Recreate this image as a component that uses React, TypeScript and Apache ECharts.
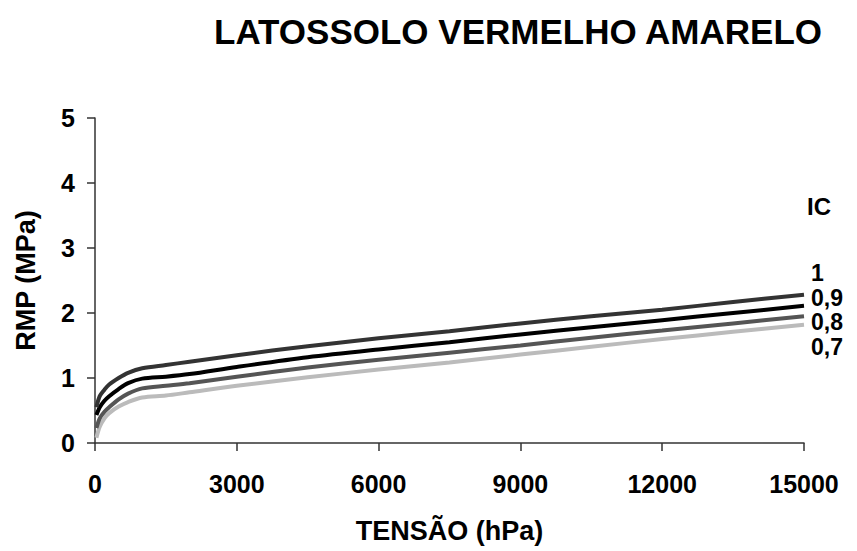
import React, { useEffect, useRef } from "react";
import * as echarts from "echarts";

const tensao = [30, 100, 200, 300, 500, 700, 1000, 1500, 2000, 3000, 4500, 6000, 7500, 9000, 10500, 12000, 13500, 15000];
const ic10 = [0.55, 0.72, 0.82, 0.9, 1.0, 1.08, 1.15, 1.2, 1.25, 1.35, 1.49, 1.61, 1.72, 1.84, 1.95, 2.05, 2.17, 2.28];
const ic09 = [0.43, 0.55, 0.65, 0.72, 0.83, 0.92, 0.99, 1.02, 1.06, 1.17, 1.32, 1.44, 1.55, 1.67, 1.78, 1.89, 2.0, 2.11];
const ic08 = [0.23, 0.38, 0.48, 0.55, 0.67, 0.76, 0.84, 0.88, 0.92, 1.02, 1.16, 1.28, 1.39, 1.5, 1.62, 1.73, 1.84, 1.95];
const ic07 = [0.08, 0.25, 0.38, 0.46, 0.56, 0.63, 0.7, 0.73, 0.78, 0.88, 1.01, 1.13, 1.24, 1.36, 1.48, 1.6, 1.71, 1.82];

const seriesNames = ["1", "0,9", "0,8", "0,7"];
const seriesValues = [ic10, ic09, ic08, ic07];
const seriesColors = ["#333333", "#000000", "#555555", "#bbbbbb"];
const labelY = [271, 296, 320, 345];

const FONT = "'Liberation Sans', Arial, Helvetica, sans-serif";

export default function App() {
  const ref = useRef<HTMLDivElement>(null);
  useEffect(() => {
    if (!ref.current) return;
    const chart = echarts.init(ref.current, null, { renderer: "svg" });
    const axisText = { fontFamily: FONT, fontWeight: "bold", color: "#000" };
    chart.setOption({
      animation: false,
      backgroundColor: "#ffffff",
      title: {
        text: "LATOSSOLO VERMELHO AMARELO",
        left: 513,
        top: 9,
        textAlign: "center",
        textStyle: { ...axisText, fontSize: 35, lineHeight: 35 },
      },
      grid: { left: 95, right: 53, top: 118, bottom: 108, containLabel: false },
      xAxis: {
        type: "value",
        min: 0,
        max: 15000,
        interval: 3000,
        name: "TENSÃO (hPa)",
        nameLocation: "middle",
        nameGap: 74,
        nameTextStyle: { ...axisText, fontSize: 27 },
        axisLine: { show: true, onZero: false, lineStyle: { color: "#333", width: 1.5 } },
        axisTick: { show: true, inside: false, length: 8, lineStyle: { color: "#333", width: 1.5 } },
        axisLabel: { ...axisText, fontSize: 25, margin: 28, formatter: (v: number) => String(v) },
        splitLine: { show: false },
      },
      yAxis: {
        type: "value",
        min: 0,
        max: 5,
        interval: 1,
        name: "RMP (MPa)",
        nameLocation: "middle",
        nameGap: 56,
        nameRotate: 90,
        nameTextStyle: { ...axisText, fontSize: 27 },
        axisLine: { show: true, lineStyle: { color: "#333", width: 1.5 } },
        axisTick: { show: true, inside: false, length: 8, lineStyle: { color: "#333", width: 1.5 } },
        axisLabel: { ...axisText, fontSize: 25, margin: 20 },
        splitLine: { show: false },
      },
      series: seriesValues.map((vals, i) => ({
        name: seriesNames[i],
        type: "line",
        data: tensao.map((x, j) => [x, vals[j]]),
        showSymbol: false,
        smooth: 0.3,
        lineStyle: { color: seriesColors[i], width: 4 },
        itemStyle: { color: seriesColors[i] },
        z: 4 - i,
      })),
      graphic: [
        {
          type: "text",
          left: 807,
          top: 194,
          style: { text: "IC", font: `bold 24px ${FONT}`, fill: "#000", lineHeight: 20 },
        },
        ...seriesNames.map((n, i) => ({
          type: "text",
          left: 811,
          top: labelY[i] - 10,
          style: { text: n, font: `bold 23px ${FONT}`, fill: "#000", lineHeight: 20 },
        })),
      ],
    });
    return () => chart.dispose();
  }, []);
  return <div ref={ref} style={{ width: 857, height: 551, position: "fixed", left: 0, top: 0 }} />;
}
